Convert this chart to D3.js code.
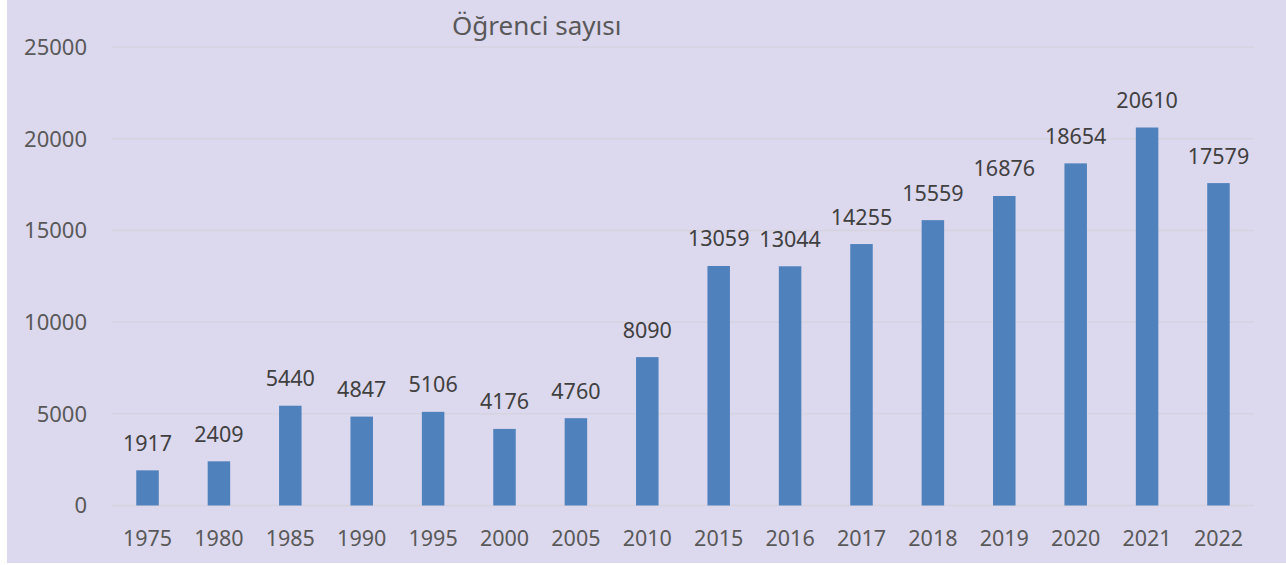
<!DOCTYPE html>
<html>
<head>
<meta charset="utf-8">
<script src="https://cdn.jsdelivr.net/npm/d3@7"></script>
<style>
  body { margin: 0; background: #fff; }
  text { font-family: "Noto Sans", "Open Sans", sans-serif; }
</style>
</head>
<body>
<div id="chart-area"></div>
<script>
var years = ["1975","1980","1985","1990","1995","2000","2005","2010","2015","2016","2017","2018","2019","2020","2021","2022"];
var students = [1917,2409,5440,4847,5106,4176,4760,8090,13059,13044,14255,15559,16876,18654,20610,17579];
var yTicks = [0,5000,10000,15000,20000,25000];

var width = 1286, height = 565;
var margin = {top: 47, right: 32, bottom: 59.5, left: 112};

var svg = d3.select("#chart-area").append("svg")
    .attr("width", width)
    .attr("height", height);

svg.append("rect")
    .attr("x", 7).attr("y", 0)
    .attr("width", width - 7).attr("height", 563)
    .attr("fill", "#dcd8ed");

var x = d3.scaleBand()
    .domain(years)
    .range([margin.left, width - margin.right])
    .paddingInner(0.685)
    .paddingOuter(0.34);

var y = d3.scaleLinear()
    .domain([0, 25000])
    .range([height - margin.bottom, margin.top]);

// gridlines
svg.append("g").selectAll("line")
    .data(yTicks)
    .enter().append("line")
    .attr("x1", margin.left)
    .attr("x2", width - margin.right)
    .attr("y1", d => y(d))
    .attr("y2", d => y(d))
    .attr("stroke", "#d6d3e0")
    .attr("stroke-width", 1.5);

// y tick labels
svg.append("g").selectAll("text")
    .data(yTicks)
    .enter().append("text")
    .attr("x", 87)
    .attr("y", d => y(d))
    .attr("dy", "0.36em")
    .attr("text-anchor", "end")
    .attr("font-size", 22)
    .attr("fill", "#595959")
    .text(d => d);

// x labels
svg.append("g").selectAll("text")
    .data(years)
    .enter().append("text")
    .attr("x", d => x(d) + x.bandwidth() / 2)
    .attr("y", 546)
    .attr("text-anchor", "middle")
    .attr("font-size", 21.5)
    .attr("fill", "#595959")
    .text(d => d);

// bars
svg.append("g").selectAll("rect")
    .data(students)
    .enter().append("rect")
    .attr("x", (d, i) => x(years[i]))
    .attr("y", d => y(d))
    .attr("width", x.bandwidth())
    .attr("height", d => y(0) - y(d))
    .attr("fill", "#4f81bd");

// value labels
svg.append("g").selectAll("text")
    .data(students)
    .enter().append("text")
    .attr("x", (d, i) => x(years[i]) + x.bandwidth() / 2)
    .attr("y", d => y(d) - 19.5)
    .attr("text-anchor", "middle")
    .attr("font-size", 21.5)
    .attr("fill", "#404040")
    .text(d => d);

// title
svg.append("text")
    .attr("x", 452)
    .attr("y", 35)
    .attr("font-size", 26)
    .attr("fill", "#595959")
    .text("Öğrenci sayısı");
</script>
</body>
</html>
